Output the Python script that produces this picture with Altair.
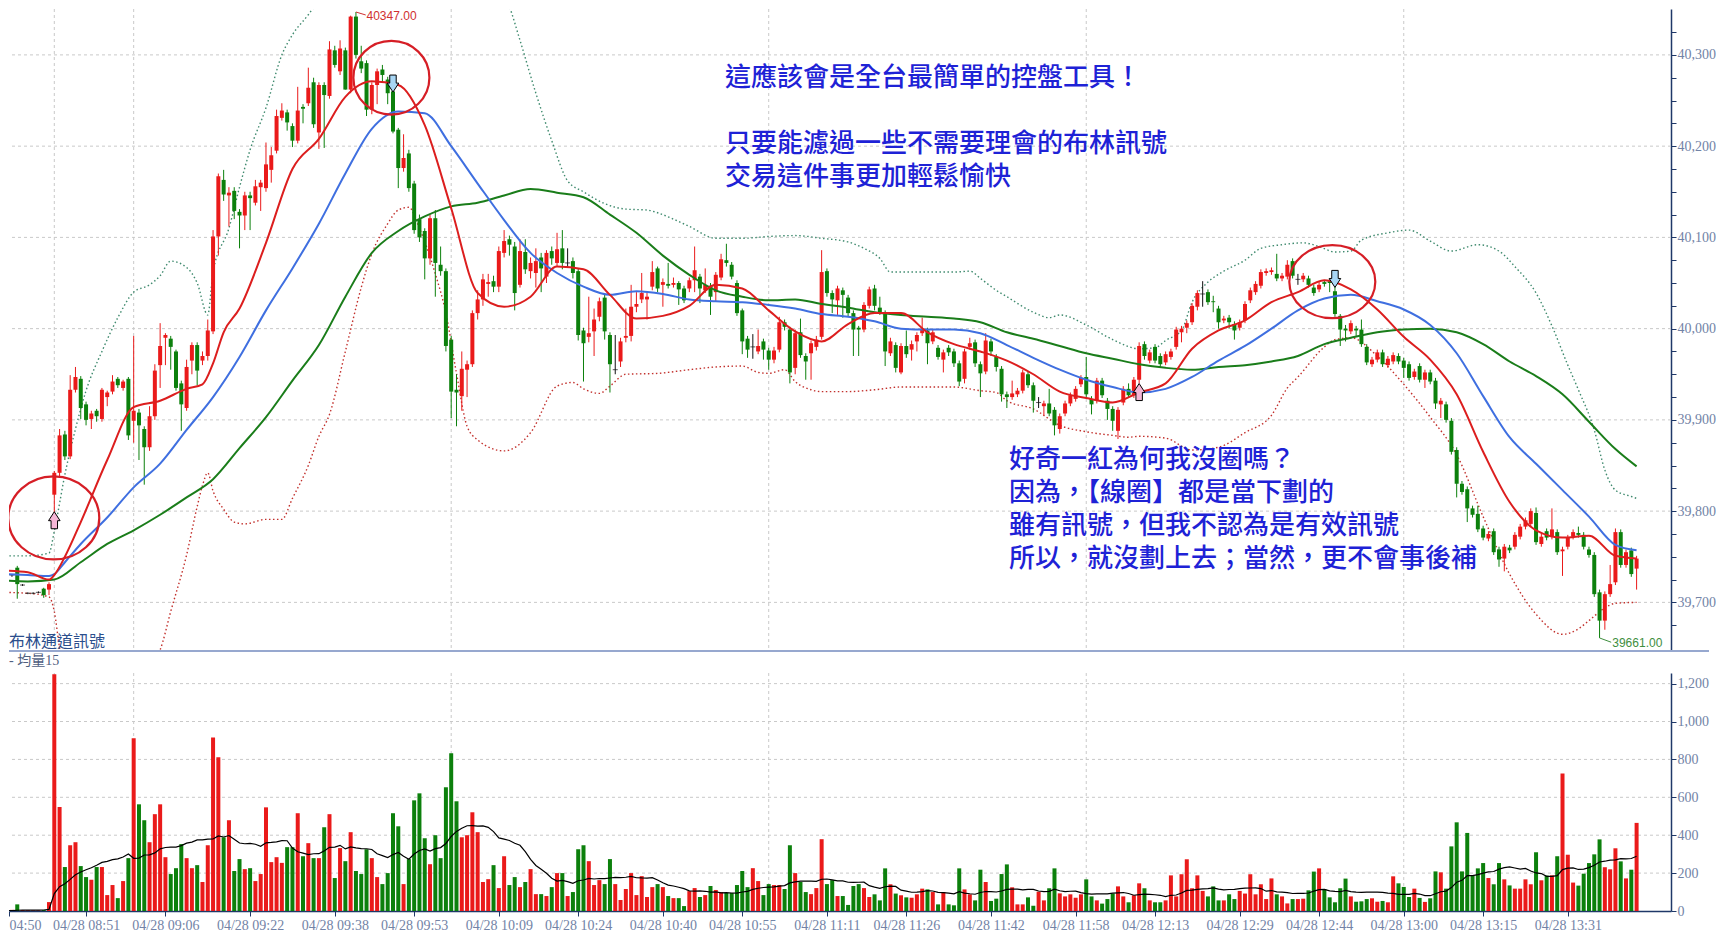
import altair as alt
import pandas as pd

# ---------------- data ----------------
# bar index: -10..-1 = night session 04:50-04:59, 0..299 = day session 08:45-13:44
NIGHT_OPEN = [39724, 39727, 39730, 39738, 39719, 39710, 39710, 39711, 39715, 39714]
NIGHT_HIGH = [39736, 39732, 39731, 39740, 39720, 39711, 39711, 39712, 39716, 39722]
NIGHT_LOW = [39722, 39725, 39728, 39704, 39718, 39709, 39709, 39710, 39705, 39708]
NIGHT_CLOSE = [39733, 39730, 39730, 39720, 39719, 39710, 39710, 39711, 39708, 39720]
NIGHT_VOL = [12, 8, 6, 35, 5, 4, 3, 3, 5, 47]

DAY_OPEN = [
    39818, 39842, 39884, 39860, 39933, 39945, 39917, 39901, 39910, 39901,
    39925, 39931, 39945, 39935, 39945, 39899, 39908, 39890, 39870, 39904,
    39960, 39990, 39989, 39975, 39940, 39913, 39965, 39982, 39965, 39970,
    39997, 40101, 40163, 40146, 40151, 40128, 40124, 40146, 40138, 40155,
    40154, 40174, 40195, 40231, 40237, 40222, 40206, 40243, 40247, 40270,
    40215, 40267, 40255, 40305, 40282, 40305, 40262, 40342, 40293, 40291,
    40240, 40267, 40284, 40273, 40260, 40218, 40176, 40192, 40159, 40120,
    40107, 40077, 40121, 40070, 40063, 39988, 39933, 39926, 39955, 39961,
    40017, 40032, 40049, 40052, 40046, 40083, 40098, 40090, 40048, 40084,
    40063, 40061, 40078, 40057, 40085, 40072, 40088, 40072, 40074, 40063,
    39998, 39991, 39997, 40013, 40034, 39993, 39955, 39964, 39990, 39992,
    40024, 40032, 40032, 40046, 40066, 40048, 40049, 40048, 40050, 40044,
    40044, 40053, 40057, 40042, 40047, 40040, 40056, 40075, 40070, 40050,
    40020, 39989, 39980, 39975, 39986, 39976, 39966, 39977, 40007, 39999,
    39957, 39996, 39970, 39973, 39980, 39991, 40063, 40039, 40031, 40042,
    40034, 40017, 40001, 39999, 40025, 40044, 40023, 40017, 39973, 39982,
    39952, 39981, 39977, 39986, 39995, 39998, 39986, 39979, 39966, 39979,
    39975, 39962, 39945, 39980, 39985, 39961, 39953, 39986, 39969, 39956,
    39928, 39925, 39928, 39932, 39950, 39938, 39919, 39915, 39918, 39911,
    39890, 39907, 39918, 39923, 39939, 39947, 39923, 39921, 39943, 39921,
    39912, 39888, 39919, 39934, 39927, 39944, 39983, 39965, 39980, 39970,
    39963, 39969, 39980, 39996, 40001, 40007, 40024, 40038, 40040, 40030,
    40022, 40009, 40012, 40005, 40001, 40009, 40031, 40040, 40047, 40061,
    40062, 40060, 40055, 40057, 40074, 40054, 40054, 40055, 40045, 40043,
    40051, 40052, 40041, 40014, 40000, 39997, 40000, 39999, 39980, 39961,
    39966, 39974, 39960, 39964, 39970, 39965, 39961, 39947, 39959, 39944,
    39952, 39943, 39917, 39917, 39899, 39867, 39830, 39824, 39803, 39797,
    39781, 39770, 39778, 39758, 39748, 39760, 39761, 39772, 39783, 39786,
    39798, 39764, 39778, 39772, 39777, 39756, 39761, 39772, 39776, 39774,
    39758, 39752, 39711, 39680, 39709, 39722, 39777, 39741, 39757, 39737,
]
DAY_HIGH = [
    39844, 39890, 39888, 39949, 39958, 39948, 39920, 39910, 39912, 39935,
    39932, 39949, 39947, 39944, 39947, 39992, 39912, 39893, 39915, 39961,
    40006, 39995, 39992, 39977, 39943, 39966, 39985, 39985, 39975, 40010,
    40108, 40170, 40174, 40155, 40155, 40131, 40150, 40150, 40163, 40163,
    40204, 40199, 40240, 40247, 40240, 40225, 40265, 40246, 40286, 40275,
    40270, 40270, 40315, 40310, 40316, 40308, 40343, 40347, 40310, 40294,
    40270, 40285, 40289, 40276, 40262, 40220, 40213, 40196, 40162, 40125,
    40110, 40125, 40130, 40090, 40066, 39992, 39950, 39975, 39965, 40020,
    40042, 40060, 40060, 40058, 40090, 40108, 40102, 40095, 40098, 40098,
    40078, 40088, 40083, 40086, 40090, 40105, 40108, 40088, 40078, 40066,
    40001, 40035, 40022, 40034, 40038, 39996, 39993, 39990, 40022, 40048,
    40040, 40061, 40040, 40074, 40068, 40055, 40072, 40056, 40052, 40047,
    40056, 40090, 40060, 40066, 40050, 40062, 40082, 40093, 40073, 40053,
    40022, 39992, 39994, 39999, 39989, 39979, 39980, 40013, 40010, 40002,
    39999, 40011, 39973, 39987, 39992, 40086, 40066, 40042, 40047, 40045,
    40037, 40020, 40003, 40029, 40046, 40048, 40035, 40020, 39990, 39985,
    39984, 39998, 39987, 39996, 40012, 40001, 39999, 39982, 39977, 39982,
    39978, 39965, 39978, 39990, 39988, 39964, 39995, 39989, 39972, 39959,
    39931, 39943, 39935, 39955, 39953, 39941, 39925, 39921, 39934, 39914,
    39907, 39921, 39930, 39937, 39949, 39969, 39926, 39946, 39946, 39924,
    39915, 39914, 39937, 39940, 39947, 39985, 39986, 39977, 39983, 39973,
    39975, 39978, 40002, 40003, 40009, 40028, 40042, 40052, 40043, 40036,
    40025, 40014, 40015, 40008, 40010, 40030, 40045, 40052, 40065, 40066,
    40067, 40082, 40061, 40075, 40077, 40060, 40061, 40058, 40048, 40051,
    40053, 40054, 40055, 40016, 40004, 40009, 40003, 40010, 39983, 39969,
    39977, 39977, 39970, 39974, 39973, 39968, 39964, 39956, 39962, 39955,
    39955, 39946, 39924, 39920, 39902, 39870, 39833, 39827, 39806, 39806,
    39784, 39778, 39781, 39761, 39764, 39763, 39777, 39786, 39793, 39803,
    39804, 39775, 39781, 39803, 39780, 39761, 39774, 39780, 39783, 39777,
    39761, 39755, 39714, 39712, 39741, 39781, 39780, 39758, 39760, 39751,
]
DAY_LOW = [
    39797, 39838, 39856, 39857, 39930, 39901, 39894, 39890, 39898, 39898,
    39915, 39928, 39935, 39932, 39878, 39875, 39856, 39829, 39866, 39900,
    39935, 39960, 39955, 39932, 39888, 39910, 39950, 39938, 39960, 39965,
    39994, 40080, 40140, 40112, 40120, 40088, 40108, 40108, 40135, 40129,
    40150, 40160, 40192, 40228, 40217, 40199, 40203, 40225, 40244, 40220,
    40197, 40198, 40252, 40286, 40278, 40262, 40258, 40296, 40280, 40233,
    40235, 40246, 40270, 40246, 40214, 40154, 40172, 40150, 40104, 40095,
    40054, 40070, 40035, 40058, 39975, 39902, 39893, 39910, 39925, 39958,
    40010, 40025, 40035, 40040, 40040, 40078, 40080, 40020, 40045, 40060,
    40055, 40045, 40040, 40050, 40070, 40068, 40065, 40067, 40055, 39987,
    39942, 39985, 39970, 40008, 39988, 39930, 39950, 39958, 39985, 39986,
    40018, 40028, 40010, 40042, 40040, 40024, 40044, 40045, 40026, 40028,
    40040, 40040, 40028, 40039, 40015, 40030, 40053, 40068, 40054, 40014,
    39972, 39968, 39967, 39972, 39966, 39955, 39962, 39974, 39998, 39940,
    39950, 39968, 39944, 39944, 39976, 39988, 40035, 40017, 40015, 40012,
    40013, 39970, 39970, 39996, 40022, 40020, 40015, 39959, 39970, 39952,
    39950, 39968, 39965, 39975, 39992, 39961, 39983, 39966, 39952, 39970,
    39958, 39937, 39940, 39977, 39958, 39925, 39950, 39970, 39953, 39920,
    39913, 39922, 39925, 39929, 39935, 39908, 39913, 39905, 39904, 39883,
    39885, 39904, 39915, 39920, 39936, 39925, 39906, 39918, 39924, 39900,
    39888, 39879, 39916, 39924, 39924, 39940, 39966, 39962, 39962, 39957,
    39960, 39966, 39977, 39985, 39995, 40004, 40020, 40024, 40026, 40018,
    40000, 40006, 40000, 39988, 39998, 40006, 40028, 40037, 40044, 40058,
    40059, 40052, 40052, 40054, 40055, 40048, 40051, 40045, 40036, 40040,
    40046, 40040, 40013, 39981, 39986, 39994, 39992, 39980, 39960, 39958,
    39963, 39958, 39957, 39961, 39961, 39946, 39943, 39944, 39941, 39935,
    39939, 39912, 39902, 39897, 39862, 39815, 39818, 39788, 39793, 39777,
    39768, 39767, 39752, 39739, 39734, 39754, 39758, 39769, 39780, 39783,
    39763, 39761, 39768, 39769, 39752, 39729, 39758, 39769, 39771, 39758,
    39749, 39706, 39661, 39670, 39706, 39719, 39738, 39738, 39728, 39714,
]
DAY_CLOSE = [
    39842, 39883, 39860, 39933, 39947, 39913, 39900, 39907, 39904, 39933,
    39930, 39942, 39938, 39942, 39883, 39910, 39894, 39870, 39904, 39954,
    39981, 39993, 39980, 39935, 39917, 39958, 39982, 39954, 39970, 39998,
    40101, 40167, 40147, 40149, 40129, 40124, 40146, 40143, 40156, 40160,
    40180, 40190, 40233, 40239, 40226, 40206, 40239, 40241, 40264, 40224,
    40267, 40256, 40306, 40289, 40307, 40262, 40342, 40300, 40285, 40240,
    40267, 40282, 40278, 40258, 40216, 40176, 40187, 40154, 40108, 40100,
    40077, 40121, 40072, 40063, 39981, 39931, 39930, 39956, 39961, 40017,
    40032, 40054, 40051, 40046, 40085, 40096, 40092, 40039, 40085, 40065,
    40072, 40074, 40066, 40083, 40077, 40087, 40072, 40072, 40061, 39993,
    39984, 39995, 40010, 40030, 39997, 39961, 39955, 39986, 39992, 40024,
    40027, 40039, 40035, 40062, 40044, 40051, 40047, 40050, 40043, 40031,
    40053, 40064, 40044, 40048, 40035, 40059, 40076, 40072, 40057, 40017,
    39986, 39977, 39980, 39981, 39977, 39966, 39976, 40007, 40002, 39952,
    39995, 39971, 39964, 39984, 39988, 40062, 40039, 40032, 40044, 40037,
    40017, 39999, 39999, 40026, 40043, 40025, 40018, 39975, 39986, 39957,
    39981, 39972, 39983, 39993, 39999, 39984, 39996, 39969, 39974, 39974,
    39962, 39942, 39975, 39984, 39962, 39951, 39987, 39975, 39958, 39928,
    39925, 39929, 39932, 39952, 39938, 39921, 39919, 39918, 39907, 39894,
    39904, 39918, 39927, 39934, 39946, 39928, 39917, 39943, 39927, 39912,
    39899, 39911, 39934, 39927, 39944, 39981, 39970, 39974, 39965, 39961,
    39972, 39975, 39999, 40000, 40006, 40025, 40039, 40038, 40029, 40029,
    40007, 40011, 40007, 39998, 40007, 40027, 40042, 40049, 40062, 40063,
    40064, 40055, 40058, 40070, 40058, 40054, 40058, 40048, 40039, 40048,
    40049, 40050, 40016, 39999, 39998, 40006, 39998, 39983, 39963, 39966,
    39974, 39961, 39967, 39971, 39964, 39957, 39946, 39953, 39944, 39952,
    39942, 39918, 39921, 39900, 39865, 39830, 39821, 39803, 39796, 39780,
    39771, 39775, 39755, 39747, 39761, 39757, 39774, 39783, 39790, 39800,
    39766, 39772, 39771, 39780, 39755, 39758, 39771, 39777, 39774, 39761,
    39752, 39709, 39680, 39709, 39720, 39777, 39741, 39755, 39731, 39748,
]
DAY_VOL = [
    1249, 549, 232, 347, 363, 237, 179, 165, 232, 232,
    84, 137, 68, 158, 279, 911, 563, 479, 363, 511,
    563, 284, 195, 226, 353, 279, 226, 242, 153, 347,
    916, 811, 389, 479, 211, 274, 221, 226, 158, 195,
    547, 258, 284, 254, 337, 337, 516, 289, 358, 279,
    279, 442, 511, 174, 332, 263, 416, 211, 195, 326,
    279, 179, 142, 200, 516, 447, 142, 274, 584, 621,
    384, 247, 400, 279, 653, 832, 579, 389, 400, 521,
    416, 153, 168, 242, 121, 289, 137, 179, 126, 153,
    221, 89, 89, 79, 126, 200, 200, 79, 100, 326,
    347, 263, 137, 163, 142, 274, 142, 58, 116, 200,
    84, 184, 74, 126, 142, 126, 79, 68, 68, 26,
    105, 121, 74, 84, 132, 111, 100, 95, 95, 137,
    211, 126, 226, 158, 84, 142, 137, 137, 116, 347,
    200, 153, 100, 89, 121, 379, 142, 163, 79, 79,
    32, 132, 142, 121, 74, 88, 56, 225, 141, 92,
    83, 72, 70, 88, 118, 114, 100, 35, 100, 35,
    30, 225, 114, 88, 56, 218, 153, 53, 65, 195,
    246, 125, 35, 35, 72, 28, 102, 56, 120, 225,
    93, 77, 88, 70, 88, 167, 77, 56, 39, 63,
    92, 130, 77, 46, 83, 146, 120, 56, 46, 46,
    56, 188, 77, 194, 273, 120, 188, 106, 77, 130,
    56, 56, 88, 63, 106, 92, 194, 88, 141, 63,
    172, 88, 77, 40, 63, 63, 65, 109, 208, 225,
    116, 72, 46, 120, 171, 77, 49, 51, 63, 67,
    49, 53, 46, 183, 146, 127, 74, 118, 69, 48,
    67, 209, 204, 118, 341, 468, 209, 412, 188, 225,
    253, 174, 141, 253, 167, 135, 118, 118, 167, 141,
    310, 162, 187, 188, 289, 725, 297, 150, 134, 197,
    253, 299, 378, 231, 220, 331, 262, 172, 218, 465,
]

# indicator lines (bar index, price)
MA10_IDX = [-10, -5, -1, 0, 2, 5, 10, 15, 20, 25, 28, 30, 32, 35, 40, 45, 50, 55, 60, 65, 70, 75, 80, 85,
            90, 95, 100, 105, 110, 115, 120, 125, 130, 135, 140, 145, 150, 155, 160, 165, 170, 175, 180,
            185, 190, 195, 200, 205, 210, 215, 220, 225, 230, 235, 240, 245, 250, 255, 260, 265, 270, 275,
            280, 285, 290, 295, 299]
MA10 = [39735, 39733, 39725, 39730, 39750, 39788, 39856, 39914, 39921, 39934, 39939, 39962, 39996, 40022,
        40094, 40175, 40208, 40254, 40271, 40267, 40223, 40132, 40039, 40024, 40035, 40068, 40065, 40037,
        40011, 40014, 40025, 40048, 40044, 40020, 39997, 39986, 40005, 40017, 40017, 39996, 39983, 39975,
        39965, 39950, 39931, 39924, 39919, 39930, 39940, 39978, 39998, 40009, 40029, 40040, 40053, 40043,
        40021, 39991, 39966, 39928, 39865, 39810, 39779, 39771, 39773, 39751, 39748]
MA20_IDX = [-10, -5, -1, 0, 2, 5, 10, 15, 20, 25, 30, 35, 40, 45, 50, 55, 60, 65, 70, 75, 80, 85, 90, 95,
            100, 105, 110, 115, 120, 125, 130, 135, 140, 145, 150, 155, 160, 165, 170, 175, 180, 185, 190,
            195, 200, 205, 210, 215, 220, 225, 230, 235, 240, 245, 250, 255, 260, 265, 270, 275, 280, 285,
            290, 295, 299]
MA20 = [39731, 39730, 39729, 39731, 39744, 39764, 39793, 39826, 39852, 39889, 39925, 39969, 40020, 40066,
        40115, 40170, 40219, 40238, 40236, 40200, 40159, 40119, 40083, 40061, 40046, 40037, 40041, 40038,
        40032, 40030, 40029, 40026, 40022, 40016, 40013, 40008, 40000, 39999, 39999, 39995, 39982, 39968,
        39955, 39944, 39936, 39930, 39934, 39947, 39965, 39981, 40000, 40020, 40033, 40037, 40030, 40021,
        40004, 39973, 39926, 39881, 39852, 39823, 39794, 39763, 39757]
MA60_IDX = [-10, -5, 0, 5, 10, 15, 20, 25, 30, 35, 40, 45, 50, 55, 60, 65, 70, 75, 80, 85, 90, 95, 100,
            105, 110, 115, 120, 125, 130, 135, 140, 145, 150, 155, 160, 165, 170, 175, 180, 185, 190, 195,
            200, 205, 210, 215, 220, 225, 230, 235, 240, 245, 250, 255, 260, 265, 270, 275, 280, 285, 290,
            295, 299]
MA60 = [39724, 39723, 39725, 39744, 39764, 39779, 39796, 39815, 39835, 39869, 39903, 39943, 39982, 40035,
        40083, 40107, 40123, 40134, 40138, 40146, 40153, 40149, 40144, 40125, 40105, 40080, 40059, 40042,
        40035, 40031, 40032, 40027, 40023, 40018, 40015, 40013, 40011, 40007, 39996, 39989, 39981, 39973,
        39967, 39961, 39957, 39955, 39958, 39960, 39964, 39970, 39983, 39990, 39996, 39999, 40000, 39996,
        39983, 39964, 39948, 39928, 39898, 39868, 39849]
BB_UP_IDX = [-10, -5, -1, 0, 2, 4, 6, 9, 12, 15, 18, 20, 22, 25, 27, 29, 30, 33, 35, 37, 40, 43, 45, 48,
             50, 55, 60, 65, 70, 75, 80, 86, 88, 91, 94, 97, 100, 104, 108, 112, 114, 117, 120, 125, 130,
             135, 140, 145, 150, 153, 156, 158, 165, 170, 173, 175, 178, 180, 185, 188, 190, 195, 200, 205,
             208, 210, 213, 215, 218, 221, 225, 228, 232, 236, 239, 242, 245, 247, 252, 256, 260, 264, 269,
             273, 276, 280, 283, 286, 288, 291, 293, 295, 298, 299]
BB_UP = [39751, 39751, 39754, 39778, 39840, 39890, 39932, 39975, 40012, 40040, 40048, 40058, 40074, 40067,
         40050, 40015, 40062, 40110, 40155, 40196, 40242, 40300, 40322, 40344, 40360, 40400, 40440, 40455,
         40450, 40430, 40400, 40353, 40316, 40258, 40206, 40162, 40150, 40137, 40131, 40130, 40127, 40120,
         40112, 40099, 40099, 40101, 40102, 40099, 40095, 40088, 40077, 40062, 40062, 40062, 40063, 40055,
         40042, 40035, 40018, 40012, 40015, 40004, 39988, 39978, 39979, 39987, 39998, 40029, 40051, 40063,
         40075, 40088, 40092, 40094, 40090, 40084, 40085, 40097, 40105, 40108, 40096, 40085, 40092, 40085,
         40068, 40039, 40003, 39960, 39933, 39889, 39845, 39823, 39816, 39814]
BB_LO_IDX = [-10, -5, -1, 0, 1, 3, 6, 10, 15, 18, 20, 22, 25, 27, 28, 29, 30, 32, 34, 36, 40, 43, 45, 48,
             50, 52, 55, 58, 60, 63, 65, 67, 69, 72, 74, 76, 78, 80, 85, 90, 95, 98, 100, 103, 105, 108,
             114, 120, 125, 130, 133, 135, 138, 140, 143, 145, 150, 155, 160, 165, 170, 175, 178, 180, 185,
             190, 195, 200, 203, 205, 210, 215, 220, 225, 230, 233, 235, 240, 242, 245, 250, 255, 260, 265,
             270, 275, 280, 285, 288, 290, 293, 295, 299]
BB_LO = [39711, 39710, 39706, 39690, 39650, 39610, 39590, 39578, 39610, 39632, 39648, 39690, 39752, 39805,
         39828, 39842, 39822, 39802, 39788, 39786, 39791, 39791, 39814, 39850, 39882, 39906, 39975, 40045,
         40082, 40115, 40130, 40133, 40110, 40060, 40017, 39951, 39893, 39878, 39866, 39886, 39937, 39941,
         39934, 39929, 39937, 39950, 39951, 39955, 39958, 39959, 39952, 39951, 39955, 39942, 39933, 39931,
         39931, 39933, 39936, 39936, 39936, 39932, 39930, 39921, 39912, 39894, 39887, 39883, 39881, 39882,
         39880, 39867, 39870, 39886, 39905, 39935, 39947, 39980, 39988, 39990, 39970, 39939, 39903, 39862,
         39794, 39731, 39687, 39665, 39671, 39680, 39694, 39699, 39700]

PRICE_GRID = [39700, 39800, 39900, 40000, 40100, 40200, 40300]
PRICE_TICKS = list(range(39675, 40326, 25))
VOL_GRID = [200, 400, 600, 800, 1000, 1200]
VOL_TICKS = [0, 200, 400, 600, 800, 1000, 1200]
HOUR_IDX = [0, 15, 75, 135, 195, 255]          # 08:45, 09:00, 10:00, 11:00, 12:00, 13:00
TICK_IDX = [6, 21, 37, 53, 68, 84, 99, 115, 130, 146, 161, 177, 193, 208, 224, 239, 255, 270, 286]
TICK_LABELS = ["04/28 08:51", "04/28 09:06", "04/28 09:22", "04/28 09:38", "04/28 09:53", "04/28 10:09",
               "04/28 10:24", "04/28 10:40", "04/28 10:55", "04/28 11:11", "04/28 11:26", "04/28 11:42",
               "04/28 11:58", "04/28 12:13", "04/28 12:29", "04/28 12:44", "04/28 13:00", "04/28 13:15",
               "04/28 13:31"]
FIRST_LABEL = "04:50"

NOTE_TOP = ["這應該會是全台最簡單的控盤工具！", "只要能濾過一些不需要理會的布林訊號", "交易這件事更加輕鬆愉快"]
NOTE_LOW = ["好奇一紅為何我沒圈嗎？", "因為，【線圈】都是當下劃的",
            "雖有訊號，但我不認為是有效訊號", "所以，就沒劃上去；當然，更不會事後補"]

OPEN = NIGHT_OPEN + DAY_OPEN
HIGH = NIGHT_HIGH + DAY_HIGH
LOW = NIGHT_LOW + DAY_LOW
CLOSE = NIGHT_CLOSE + DAY_CLOSE
VOLUME = NIGHT_VOL + DAY_VOL
IDX = list(range(-10, 300))
assert len(OPEN) == len(HIGH) == len(LOW) == len(CLOSE) == len(VOLUME) == len(IDX)

# ---------------- styling ----------------
RED = "#ea1a1a"
GREEN = "#0c800c"
NAVY = "#1f3868"
LABEL = "#7283a6"
GRID = "#c9c9c9"
BLUE_TXT = "#1e22d6"
CIRC = "#d61e26"
AX_FONT = "Liberation Serif"
CJK = "Noto Sans CJK TC"

X_MIN, X_MAX = -8.56, 305.5
W = 1662
PRICE_H = 641
VOL_H = 238

xs = alt.Scale(domain=[X_MIN, X_MAX], nice=False, zero=False, padding=0)
ps = alt.Scale(domain=[39647.8, 40350.3], nice=False, zero=False, padding=0)
vs = alt.Scale(domain=[0, 1256], nice=False, zero=True, padding=0)

axis_common = dict(grid=False, tickSize=5, tickColor=NAVY, domainColor=NAVY, domainWidth=1.5,
                   labelColor=LABEL, labelFont=AX_FONT, labelFontSize=14, labelOverlap=False, title=None)
price_axis = alt.Axis(orient="right", values=PRICE_TICKS, labelPadding=1,
                      labelExpr="datum.value % 100 === 0 ? format(datum.value, ',') : ''", **axis_common)
vol_axis = alt.Axis(orient="right", values=VOL_TICKS, labelPadding=1,
                    labelExpr="format(datum.value, ',')", **axis_common)
labels_js = "[" + ",".join("'%s'" % s for s in TICK_LABELS) + "]"
idx_js = "[" + ",".join(str(v) for v in TICK_IDX) + "]"
x_axis = alt.Axis(orient="bottom", values=[X_MIN] + TICK_IDX, labelPadding=2,
                  labelAlign={"condition": {"test": "datum.value < 0", "value": "left"}, "value": "center"},
                  labelExpr="datum.value < 0 ? '%s' : %s[indexof(%s, datum.value)]" % (FIRST_LABEL, labels_js, idx_js),
                  **axis_common)


# price panel: x without axis, y with the shared right axis on every layer
def PX(f):
    return alt.X(f, scale=xs, axis=None)


def PY(f):
    return alt.Y(f, scale=ps, axis=price_axis)


# volume panel: both axes on every layer
def VX(f):
    return alt.X(f, scale=xs, axis=x_axis)


def VY(f):
    return alt.Y(f, scale=vs, axis=vol_axis)


bars = pd.DataFrame({"idx": IDX, "o": OPEN, "h": HIGH, "l": LOW, "c": CLOSE, "v": VOLUME})
cbase = alt.Chart(bars).transform_calculate(
    dir="datum.c > datum.o ? 'up' : (datum.c < datum.o ? 'down' : 'flat')",
    vdir="datum.c >= datum.o ? 'up' : 'down'")
cscale = alt.Scale(domain=["up", "down", "flat"], range=[RED, GREEN, "#111111"])

# ---------------- price panel ----------------
one = pd.DataFrame({"k": [0]})
hgrid = alt.Chart(pd.DataFrame({"p": PRICE_GRID})).mark_rule(
    color=GRID, strokeDash=[3, 3], strokeWidth=1).encode(y=PY("p:Q"))
vgrid = alt.Chart(pd.DataFrame({"g": HOUR_IDX})).mark_rule(
    color=GRID, strokeDash=[3, 3], strokeWidth=1).encode(x=PX("g:Q"))

wicks = cbase.mark_rule(strokeWidth=1, clip=True).encode(
    x=PX("idx:Q"), y=PY("l:Q"), y2="h:Q", color=alt.Color("dir:N", scale=cscale, legend=None))
bodies = cbase.transform_filter("datum.o != datum.c").mark_bar(size=4, clip=True).encode(
    x=PX("idx:Q"), y=PY("o:Q"), y2="c:Q", color=alt.Color("dir:N", scale=cscale, legend=None))
dojis = cbase.transform_filter("datum.o == datum.c").mark_tick(
    orient="horizontal", size=5, thickness=1, color="#111111", clip=True).encode(x=PX("idx:Q"), y=PY("o:Q"))


def ind_line(idx, vals, color, width, dash=None):
    kw = dict(color=color, strokeWidth=width, interpolate="monotone", clip=True)
    if dash:
        kw["strokeDash"] = dash
    return alt.Chart(pd.DataFrame({"idx": idx, "val": vals})).mark_line(**kw).encode(
        x=PX("idx:Q"), y=PY("val:Q"))


bb_up = ind_line(BB_UP_IDX, BB_UP, "#3f8a6e", 1.4, [1.5, 2.5])
bb_lo = ind_line(BB_LO_IDX, BB_LO, "#c2302c", 1.4, [1.5, 2.5])
ma60 = ind_line(MA60_IDX, MA60, "#1a7d1a", 2)
ma20 = ind_line(MA20_IDX, MA20, "#3f6fe0", 2)
ma10 = ind_line(MA10_IDX, MA10, "#dc1e1e", 2)


def at(i, p):
    return alt.Chart(pd.DataFrame({"idx": [i], "p": [p]}))


def ellipse(r):
    return "M-1,0A1,%s,0,1,0,1,0A1,%s,0,1,0,-1,0Z" % (r, r)


UP_ARROW = "M-0.38,1L-0.38,0.05L-0.68,0.05L0,-1L0.68,0.05L0.38,0.05L0.38,1Z"
DOWN_ARROW = "M-0.38,-1L-0.38,-0.05L-0.68,-0.05L0,1L0.68,-0.05L0.38,-0.05L0.38,-1Z"

circles = [
    at(-0.1, 39792.5).mark_point(shape=ellipse(0.912), size=8281, filled=False, stroke=CIRC,
                                 strokeWidth=2.2, opacity=1, clip=True).encode(x=PX("idx:Q"), y=PY("p:Q")),
    at(63.7, 40275).mark_point(shape=ellipse(0.97), size=5776, filled=False, stroke=CIRC,
                               strokeWidth=2.2, opacity=1, clip=True).encode(x=PX("idx:Q"), y=PY("p:Q")),
    at(241.5, 40051.5).mark_point(shape=ellipse(0.85), size=7396, filled=False, stroke=CIRC,
                                  strokeWidth=2.2, opacity=1, clip=True).encode(x=PX("idx:Q"), y=PY("p:Q")),
]
arrows = [
    at(0, 39790).mark_point(shape=UP_ARROW, size=289, filled=True, fill="#f5b6d6", stroke="#000000",
                            strokeWidth=1, opacity=1).encode(x=PX("idx:Q"), y=PY("p:Q")),
    at(205, 39930.5).mark_point(shape=UP_ARROW, size=289, filled=True, fill="#f5b6d6", stroke="#000000",
                                strokeWidth=1, opacity=1).encode(x=PX("idx:Q"), y=PY("p:Q")),
    at(64, 40268.6).mark_point(shape=DOWN_ARROW, size=289, filled=True, fill="#a8d6f4", stroke="#000000",
                               strokeWidth=1, opacity=1).encode(x=PX("idx:Q"), y=PY("p:Q")),
    at(242, 40054.5).mark_point(shape=DOWN_ARROW, size=289, filled=True, fill="#a8d6f4", stroke="#000000",
                                strokeWidth=1, opacity=1).encode(x=PX("idx:Q"), y=PY("p:Q")),
]

hi_leader = alt.Chart(pd.DataFrame({"a": [57], "b": [58.85], "p": [40347]})).mark_rule(
    color="#d03030", strokeWidth=1).encode(x=PX("a:Q"), x2="b:Q", y=PY("p:Q"), y2=alt.value(6))
hi_text = at(59.0, 40347).mark_text(align="left", baseline="middle", font="Liberation Sans",
                                    fontSize=12, color="#d03030").encode(
    x=PX("idx:Q"), y=alt.value(6.5), text=alt.value("40347.00"))
lo_leader = alt.Chart(pd.DataFrame({"a": [292], "b": [294.2], "p": [39661], "q": [39656.3]})).mark_rule(
    color="#3e8e3e", strokeWidth=1).encode(x=PX("a:Q"), x2="b:Q", y=PY("p:Q"), y2="q:Q")
lo_text = at(294.4, 39656).mark_text(align="left", baseline="middle", font="Liberation Sans",
                                     fontSize=12, color="#3e8e3e").encode(
    x=PX("idx:Q"), y=PY("p:Q"), text=alt.value("39661.00"))

note_kw = dict(align="left", baseline="alphabetic", font=CJK, fontSize=26, fontWeight=500, color=BLUE_TXT)


def note(txt, x, y):
    return alt.Chart(one).mark_text(**note_kw).encode(x=alt.value(x), y=alt.value(y), text=alt.value(txt))


notes = [note(NOTE_TOP[0], 716, 77), note(NOTE_TOP[1], 716, 143), note(NOTE_TOP[2], 716, 176)]
notes += [note(t, 1000, 458.5 + 33.1 * k) for k, t in enumerate(NOTE_LOW)]

bb_label = alt.Chart(one).mark_text(align="left", baseline="middle", font=CJK, fontSize=16,
                                    color="#2b4e8c").encode(
    x=alt.value(0), y=alt.value(633), text=alt.value("布林通道訊號"))
separator = alt.Chart(one).mark_rule(color="#97a8cf", strokeWidth=2).encode(
    x=alt.value(0), x2=alt.value(1700), y=alt.value(642))

price = alt.layer(
    hgrid, vgrid, bb_up, bb_lo, wicks, bodies, dojis, ma60, ma20, ma10,
    *circles, *arrows, hi_leader, hi_text, lo_leader, lo_text, *notes, bb_label, separator
).properties(width=W, height=PRICE_H)

# ---------------- volume panel ----------------
vhgrid = alt.Chart(pd.DataFrame({"vg": VOL_GRID})).mark_rule(
    color=GRID, strokeDash=[3, 3], strokeWidth=1).encode(y=VY("vg:Q"))
vvgrid = alt.Chart(pd.DataFrame({"g": HOUR_IDX})).mark_rule(
    color=GRID, strokeDash=[3, 3], strokeWidth=1).encode(x=VX("g:Q"))
vbars = cbase.mark_bar(size=4, clip=True).encode(
    x=VX("idx:Q"), y=VY("v:Q"), color=alt.Color("vdir:N", scale=cscale, legend=None))
vma = cbase.transform_window(vsum="sum(v)", frame=[-14, 0], sort=[alt.SortField("idx")]).transform_calculate(
    vma="datum.vsum / 15").mark_line(color="#000000", strokeWidth=1.2, clip=True).encode(
    x=VX("idx:Q"), y=VY("vma:Q"))
vlabel = alt.Chart(one).mark_text(align="left", baseline="middle", font="Liberation Serif, " + CJK,
                                  fontSize=14, color="#50607f").encode(
    x=alt.value(0), y=alt.value(-12), text=alt.value("- 均量15"))

volume = alt.layer(vhgrid, vvgrid, vbars, vma, vlabel).properties(width=W, height=VOL_H)

chart = alt.vconcat(price, volume, spacing=23, bounds="flush").properties(
    padding={"left": 0, "top": 0, "right": 0, "bottom": 0}, background="#ffffff"
).configure_view(strokeWidth=0)

chart.save("out.html", embed_options={"renderer": "svg", "actions": False})
